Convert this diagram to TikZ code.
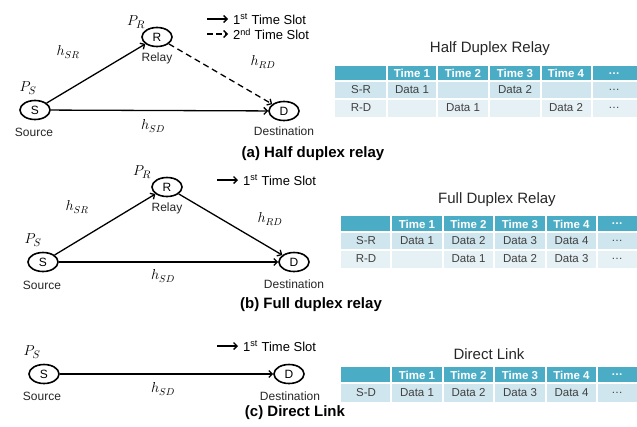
\documentclass[tikz,border=0pt]{standalone}
\usepackage{fontspec}
\setmainfont{Liberation Sans}
\usetikzlibrary{shapes.geometric,arrows.meta}
\definecolor{headfill}{RGB}{75,172,198}
\definecolor{rowdark}{RGB}{208,230,238}
\definecolor{rowlight}{RGB}{230,241,245}
\definecolor{celltext}{RGB}{64,64,64}
\tikzset{
  station/.style={ellipse,draw,line width=1.6pt,minimum width=30pt,minimum height=19pt,inner sep=0pt,font=\fontsize{12}{12}\selectfont},
  link/.style={line width=1.3pt,-{Straight Barb[length=3.5pt,width=7pt]}},
  name label/.style={font=\fontsize{12}{14}\selectfont,text=black!85},
  chan/.style={font=\fontsize{14}{16}\selectfont},
  power/.style={font=\fontsize{15}{17}\selectfont},
  slot/.style={font=\fontsize{13}{15}\selectfont,anchor=west,inner sep=0pt,xshift=5pt},
  caption/.style={font=\bfseries\fontsize{15}{17}\selectfont},
  tabtitle/.style={font=\fontsize{15}{17}\selectfont,text=black!85},
  headcell/.style={font=\bfseries\fontsize{11.5}{13}\selectfont,text=white},
  datacell/.style={font=\fontsize{11.5}{13}\selectfont,text=celltext},
  sep/.style={white,line width=1.5pt}
}
\begin{document}
\begin{tikzpicture}[x=1pt,y=-1pt]
\useasboundingbox (0,0) rectangle (637,426);
% (a) half duplex relay
\node[station] (sa) at (35,110) {S};
\node[station] (ra) at (157,37) {R};
\node[station] (da) at (284,111) {D};
\draw[link] (sa) -- (ra);
\draw[link,dash pattern=on 6pt off 4pt] (ra) -- (da);
\draw[link] (sa) -- (da);
\node[power] (psa) at (28,88) {$P_S$};
\node[power] (pra) at (136,22) {$P_R$};
\node[chan] (hsra) at (68,52) {$h_{SR}$};
\node[chan] (hrda) at (263,62) {$h_{RD}$};
\node[chan] (hsda) at (153,126) {$h_{SD}$};
\node[name label] (relaya) at (157,58) {Relay};
\node[name label] (sourcea) at (34,132) {Source};
\node[name label] (desta) at (284,131) {Destination};
\coordinate (l1a) at (207,19); \coordinate (l1b) at (228,19);
\coordinate (l2a) at (207,34); \coordinate (l2b) at (228,34);
\draw[link] (l1a) -- (l1b);
\draw[link,dash pattern=on 6pt off 3pt] (l2a) -- (l2b);
\node[slot] (t1a) at (l1b) {1\textsuperscript{st} Time Slot};
\node[slot] (t2a) at (l2b) {2\textsuperscript{nd} Time Slot};
\node[caption] (capa) at (313,154) {(a) Half duplex relay};

\node[tabtitle] (titlea) at (490,49) {Half Duplex Relay};
\fill[headfill] (335,66) rectangle (637,81);
\fill[rowdark] (335,81) rectangle (637,99);
\fill[rowlight] (335,99) rectangle (637,117);
\foreach \x in {387,437,489,541,592} \draw[sep] (\x,66) -- (\x,117);
\draw[sep] (335,81) -- (637,81) (335,99) -- (637,99);
\foreach \x/\t [count=\i] in {412/Time 1,463/Time 2,515/Time 3,566/Time 4,614/\dots}
  \node[headcell] (ha\i) at (\x,73.5) {\t};
\foreach \x/\t [count=\i] in {361/S-R,412/Data 1,515/Data 2,614/\dots}
  \node[datacell] (sra\i) at (\x,90) {\t};
\foreach \x/\t [count=\i] in {361/R-D,463/Data 1,566/Data 2,614/\dots}
  \node[datacell] (rda\i) at (\x,108) {\t};

% (b) full duplex relay
\node[station] (sb) at (43,262) {S};
\node[station] (rb) at (167,187) {R};
\node[station] (db) at (294,262) {D};
\draw[link] (sb) -- (rb);
\draw[link] (rb) -- (db);
\draw[link] (sb) -- (db);
\node[power] (psb) at (33,240) {$P_S$};
\node[power] (prb) at (142,172) {$P_R$};
\node[chan] (hsrb) at (77,207) {$h_{SR}$};
\node[chan] (hrdb) at (270,219) {$h_{RD}$};
\node[chan] (hsdb) at (163,276) {$h_{SD}$};
\node[name label] (relayb) at (167,208) {Relay};
\node[name label] (sourceb) at (42,285) {Source};
\node[name label] (destb) at (294,284) {Destination};
\coordinate (l1c) at (217,180); \coordinate (l1d) at (238,180);
\draw[link] (l1c) -- (l1d);
\node[slot] (t1b) at (l1d) {1\textsuperscript{st} Time Slot};
\node[caption] (capb) at (311,305) {(b) Full duplex relay};

\node[tabtitle] (titleb) at (497,200) {Full Duplex Relay};
\fill[headfill] (341,216) rectangle (637,232);
\fill[rowdark] (341,232) rectangle (637,250);
\fill[rowlight] (341,250) rectangle (637,268);
\foreach \x in {391,443,494,546,597} \draw[sep] (\x,216) -- (\x,268);
\draw[sep] (341,232) -- (637,232) (341,250) -- (637,250);
\foreach \x/\t [count=\i] in {417/Time 1,468.5/Time 2,520/Time 3,571.5/Time 4,617/\dots}
  \node[headcell] (hb\i) at (\x,224) {\t};
\foreach \x/\t [count=\i] in {366/S-R,417/Data 1,468.5/Data 2,520/Data 3,571.5/Data 4,617/\dots}
  \node[datacell] (srb\i) at (\x,241) {\t};
\foreach \x/\t [count=\i] in {366/R-D,468.5/Data 1,520/Data 2,571.5/Data 3,617/\dots}
  \node[datacell] (rdb\i) at (\x,259) {\t};

% (c) direct link
\node[station] (sc) at (44,374) {S};
\node[station] (dc) at (289,374) {D};
\draw[link] (sc) -- (dc);
\node[power] (psc) at (32,352) {$P_S$};
\node[chan] (hsdc) at (163,389) {$h_{SD}$};
\node[name label] (sourcec) at (42,396) {Source};
\node[name label] (destc) at (290,396) {Destination};
\coordinate (l1e) at (217,346); \coordinate (l1f) at (238,346);
\draw[link] (l1e) -- (l1f);
\node[slot] (t1c) at (l1f) {1\textsuperscript{st} Time Slot};
\node[caption] (capc) at (295,413) {(c) Direct Link};

\node[tabtitle] (titlec) at (489,354) {Direct Link};
\fill[headfill] (341,367) rectangle (637,383);
\fill[rowdark] (341,383) rectangle (637,402);
\foreach \x in {391,443,494,546,597} \draw[sep] (\x,367) -- (\x,402);
\draw[sep] (341,383) -- (637,383);
\foreach \x/\t [count=\i] in {417/Time 1,468.5/Time 2,520/Time 3,571.5/Time 4,617/\dots}
  \node[headcell] (hc\i) at (\x,375) {\t};
\foreach \x/\t [count=\i] in {366/S-D,417/Data 1,468.5/Data 2,520/Data 3,571.5/Data 4,617/\dots}
  \node[datacell] (sdc\i) at (\x,392.5) {\t};
\end{tikzpicture}
\end{document}
